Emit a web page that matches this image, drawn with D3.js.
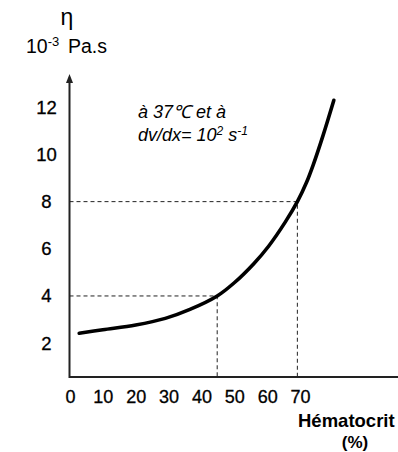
<!DOCTYPE html>
<html>
<head>
<meta charset="utf-8">
<script src="https://cdn.jsdelivr.net/npm/d3@7"></script>
<style>
  body { margin: 0; background: #fff; }
  svg { display: block; font-family: "Liberation Sans", Arial, sans-serif; }
</style>
</head>
<body>
<div id="chart"></div>
<script>
// values
const hematocrit = [2.8, 10, 20, 29, 36.5, 44.8, 50, 56, 60.5, 65.5, 69.2, 72, 74, 77, 80.3];
const viscosity = [2.42, 2.57, 2.77, 3.05, 3.43, 4.0, 4.56, 5.38, 6.12, 7.13, 8.0, 8.82, 9.55, 10.8, 12.3];
const xTicks = [0, 10, 20, 30, 40, 50, 60, 70];
const yTicks = [2, 4, 6, 8, 10, 12];
// dashed guides: [hematocrit, viscosity]
const guides = [[44.8, 4], [69.2, 8]];

const width = 398, height = 452;

const svg = d3.select('#chart')
  .append('svg')
  .attr('width', width)
  .attr('height', height);

const x = d3.scaleLinear().domain([0, 70]).range([70, 300]);
const y = d3.scaleLinear().domain([0, 12]).range([390.3, 107.3]);

const baseY = 377;   // where the x axis sits
const axisX = x(0) - 0.5;

// dashed guide lines
guides.forEach(([gx, gy]) => {
  svg.append('path')
    .attr('d', `M${axisX},${y(gy)}H${x(gx)}V${baseY}`)
    .attr('fill', 'none')
    .attr('stroke', '#222')
    .attr('stroke-width', 1)
    .attr('stroke-dasharray', '4,3');
});

// x axis ticks (labels only)
const gx = svg.append('g')
  .attr('transform', `translate(0,${baseY})`)
  .call(d3.axisBottom(x).tickValues(xTicks).tickSize(0).tickPadding(13));
gx.select('.domain').remove();
gx.selectAll('text')
  .style('font-size', '18px')
  .style('fill', '#000')
  .style('stroke', '#000').style('stroke-width', 0.3);

// y axis ticks (labels only)
const gy = svg.append('g')
  .attr('transform', `translate(${axisX},0)`)
  .call(d3.axisLeft(y).tickValues(yTicks).tickSize(0));
gy.select('.domain').remove();
gy.selectAll('text')
  .attr('x', -23)
  .attr('text-anchor', 'middle')
  .style('font-size', '18.5px')
  .style('fill', '#000')
  .style('stroke', '#000').style('stroke-width', 0.3);

// axis lines
svg.append('line')
  .attr('x1', axisX).attr('x2', width)
  .attr('y1', baseY).attr('y2', baseY)
  .attr('stroke', '#222').attr('stroke-width', 2);

svg.append('line')
  .attr('x1', axisX).attr('x2', axisX)
  .attr('y1', baseY + 1).attr('y2', 80)
  .attr('stroke', '#222').attr('stroke-width', 2);

// arrow head on y axis
svg.append('path')
  .attr('d', `M${axisX},74 L${axisX - 3.5},83 L${axisX + 3.5},83 Z`)
  .attr('fill', '#222');

// curve
const line = d3.line()
  .x((d, i) => x(hematocrit[i]))
  .y(d => y(d))
  .curve(d3.curveCatmullRom.alpha(0.5));

svg.append('path')
  .datum(viscosity)
  .attr('d', line)
  .attr('fill', 'none')
  .attr('stroke', '#000')
  .attr('stroke-width', 3.6)
  .attr('stroke-linecap', 'round');

// y axis title
svg.append('text')
  .attr('x', 67).attr('y', 25)
  .attr('text-anchor', 'middle')
  .style('font-size', '23px')
  .style('fill', '#000')
  .text('η');

const unit = svg.append('text')
  .attr('x', 26).attr('y', 53)
  .style('font-size', '19.5px')
  .style('fill', '#000');
unit.append('tspan').text('10');
unit.append('tspan').attr('dy', -7).style('font-size', '13px').text('-3');
unit.append('tspan').attr('dy', 7).attr('x', 68).text('Pa.s');

// annotation
svg.append('text')
  .attr('x', 138).attr('y', 118)
  .style('font-size', '18px')
  .style('font-style', 'italic')
  .style('fill', '#000')
  .text('à 37℃ et à');

const ann = svg.append('text')
  .attr('x', 138).attr('y', 141)
  .style('font-size', '18px')
  .style('font-style', 'italic')
  .style('fill', '#000');
ann.append('tspan').text('dv/dx= 10');
ann.append('tspan').attr('dy', -6).style('font-size', '12px').text('2');
ann.append('tspan').attr('dy', 6).text(' s');
ann.append('tspan').attr('dy', -6).style('font-size', '12px').text('-1');

// x axis title
svg.append('text')
  .attr('x', 298).attr('y', 427)
  .style('font-size', '18.5px')
  .style('font-weight', 'bold')
  .style('fill', '#000')
  .text('Hématocrit');

svg.append('text')
  .attr('x', 355).attr('y', 448)
  .attr('text-anchor', 'middle')
  .style('font-size', '17px')
  .style('font-weight', 'bold')
  .style('fill', '#000')
  .text('(%)');
</script>
</body>
</html>
